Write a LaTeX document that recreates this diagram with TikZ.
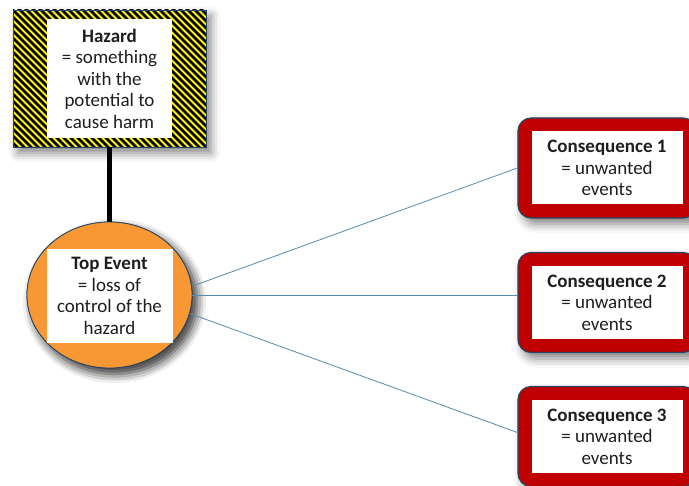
\documentclass[tikz,border=0pt]{standalone}
\usepackage{fontspec}
\setmainfont{Carlito}
\usetikzlibrary{shapes.geometric,shadows.blur}

\definecolor{hazyellow}{RGB}{250,240,20}
\definecolor{evorange}{RGB}{247,152,52}
\definecolor{conred}{RGB}{192,0,0}
\definecolor{edgeblue}{RGB}{40,70,100}
\definecolor{linkblue}{RGB}{80,140,175}
\definecolor{txt}{RGB}{30,30,30}

\tikzset{
  soft/.style={blur shadow={shadow xshift=5pt,shadow yshift=-6pt,shadow blur radius=9pt,shadow opacity=50}},
  label/.style={fill=white,inner sep=0pt,align=center,text=txt,
    font=\fontsize{19}{21.5}\selectfont},
  hazardbox/.style={rectangle,draw=edgeblue,line width=0.8pt,fill=hazyellow,
    minimum width=193pt,minimum height=137pt,soft,
    path picture={
      \foreach \s in {-245,-238,...,245}
        \draw[black,line width=2.5pt]
          ([xshift=\s pt]path picture bounding box.center) ++(-120,-120) -- ++(240,240);
    }},
  eventshape/.style={ellipse,draw=edgeblue,line width=0.8pt,fill=evorange,
    minimum width=165pt,minimum height=146pt,inner sep=0pt,soft},
  conbox/.style={rectangle,rounded corners=13pt,draw=edgeblue,line width=1.2pt,
    fill=conred,minimum width=178pt,minimum height=100pt,soft},
  link/.style={draw=linkblue,line width=0.8pt},
  stem/.style={draw=black,line width=5pt}
}

\begin{document}
\begin{tikzpicture}[x=1pt,y=-1pt]
  \useasboundingbox (0,0) rectangle (689,486);

  % hazard sign and its stem to the top event
  \node[hazardbox] (hazard) at (109.5,78.5) {};
  \node[eventshape] (top) at (109.5,295) {};
  \draw[stem] (hazard.south) -- (top.north);
  \node[eventshape] at (top) {};
  \node[label,minimum width=125pt,minimum height=119pt] (hazardtext) at (hazard.center)
    {\textbf{Hazard}\\= something\\with the\\potential to\\cause harm};
  \node[label,minimum width=126pt,minimum height=94pt] (toptext) at (109.5,296)
    {\textbf{Top Event}\\= loss of\\control of the\\hazard};

  % consequences
  \node[conbox] (c1) at (607,168) {};
  \node[conbox] (c2) at (607,302.5) {};
  \node[conbox] (c3) at (607,436.5) {};
  \foreach \n/\k in {c1/1,c2/2,c3/3}
    \node[label,minimum width=151pt,minimum height=73pt] (\n text) at (\n.center)
      {\textbf{Consequence \k}\\= unwanted\\events};

  % links from the top event
  \draw[link] (top.6) -- (c1.west);
  \draw[link] (top.east) -- (top.east -| c2.west);
  \draw[link] (top.-13) -- ([yshift=4pt]c3.west);
\end{tikzpicture}
\end{document}
